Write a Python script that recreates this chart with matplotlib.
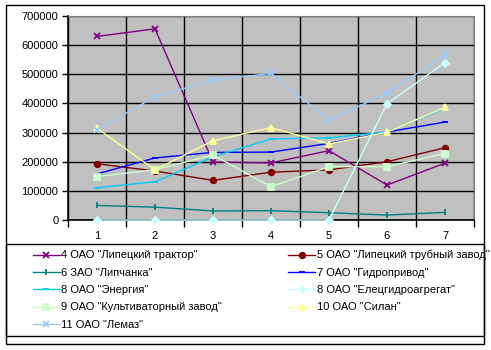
import numpy as np
from matplotlib import pyplot as plt
from matplotlib.patches import Rectangle

plt.rcParams['font.family'] = ['Liberation Sans', 'DejaVu Sans']

# periods
periods = [1, 2, 3, 4, 5, 6, 7]

# series values
traktor = [630000, 656000, 199000, 196000, 238000, 120000, 195000]
trubny = [193000, 168000, 136000, 164000, 172000, 200000, 248000]
lipchanka = [50000, 44000, 31000, 32000, 25000, 17000, 26000]
gidroprivod = [158000, 213000, 232000, 233000, 263000, 302000, 336000]
energia = [111000, 131000, 217000, 278000, 282000, 302000, 384000]
eletsgidro = [0, 0, 0, 0, 0, 399000, 540000]
kultivator = [149000, 172000, 223000, 114000, 183000, 183000, 228000]
silan = [315000, 172000, 272000, 317000, 261000, 301000, 387000]
lemaz = [310000, 423000, 480000, 503000, 343000, 435000, 566000]

names = ['4 ОАО "Липецкий трактор"', '5 ОАО "Липецкий трубный завод"',
         '6 ЗАО "Липчанка"', '7 ОАО "Гидропривод"',
         '8 ОАО "Энергия"', '8 ОАО "Елецгидроагрегат"',
         '9 ОАО "Культиваторный завод"', '10 ОАО "Силан"',
         '11 ОАО "Лемаз"']
series = [traktor, trubny, lipchanka, gidroprivod, energia,
          eletsgidro, kultivator, silan, lemaz]
colors = ['#800080', '#800000', '#008080', '#0000FF', '#00CCFF',
          '#CCFFFF', '#CCFFCC', '#FFFF99', '#99CCFF']
markers = ['x', 'o', '|', '_', '_', 'D', 's', '^', 'x']
msizes = [4, 4, 5, 4, 5, 3.5, 4.5, 4.5, 4]

W, H = 491, 350
fs = 8
fig = plt.figure(figsize=(W / 100, H / 100), dpi=100)
ax = fig.add_axes([68 / W, 1 - 220 / H, (474 - 68) / W, (220 - 16) / H])
ax.set_facecolor('#C0C0C0')

handles = []
for vals, name, c, m, ms in zip(series, names, colors, markers, msizes):
    h, = ax.plot(periods, vals, color=c, marker=m, markersize=ms, lw=1,
                 markeredgewidth=1.3, label=name, clip_on=False, zorder=3)
    handles.append(h)

ax.set_xlim(0.5, 7.5)
ax.set_ylim(0, 700000)
ax.set_xticks(periods)
ax.set_xticks(np.arange(0.5, 8, 1), minor=True)
ax.set_yticks(np.arange(0, 700001, 100000))
ax.tick_params(axis='x', which='major', length=0, pad=8, labelsize=fs)
ax.tick_params(axis='x', which='minor', length=5, width=1, direction='out')
ax.tick_params(axis='y', length=4, width=1, direction='out', pad=3,
               labelsize=fs)
ax.grid(True, axis='y', color='black', lw=1)
ax.grid(True, axis='x', which='minor', color='black', lw=1)
ax.set_axisbelow(True)
for s in ['top', 'right']:
    ax.spines[s].set_color('#808080')
for s in ['left', 'bottom']:
    ax.spines[s].set_color('black')
    ax.spines[s].set_linewidth(1.2)

# legend: row-wise order in the picture -> column-major for matplotlib
order = [0, 2, 4, 6, 8, 1, 3, 5, 7]
leg = fig.legend([handles[i] for i in order], [names[i] for i in order],
                 ncol=2, loc='upper left',
                 bbox_to_anchor=(23 / W, 1 - 240 / H),
                 frameon=False, fontsize=fs, handlelength=2.4,
                 handletextpad=0.15, columnspacing=5.95, labelspacing=0.66)

# legend box and outer border
fig.patches.append(Rectangle((6 / W, 1 - 336 / H), 478 / W, 92 / H,
                             transform=fig.transFigure, fill=False,
                             edgecolor='black', lw=1))
fig.patches.append(Rectangle((6 / W, 1 - 344 / H), 478 / W, 339 / H,
                             transform=fig.transFigure, fill=False,
                             edgecolor='black', lw=1))

fig.savefig('out.png', dpi=100)
